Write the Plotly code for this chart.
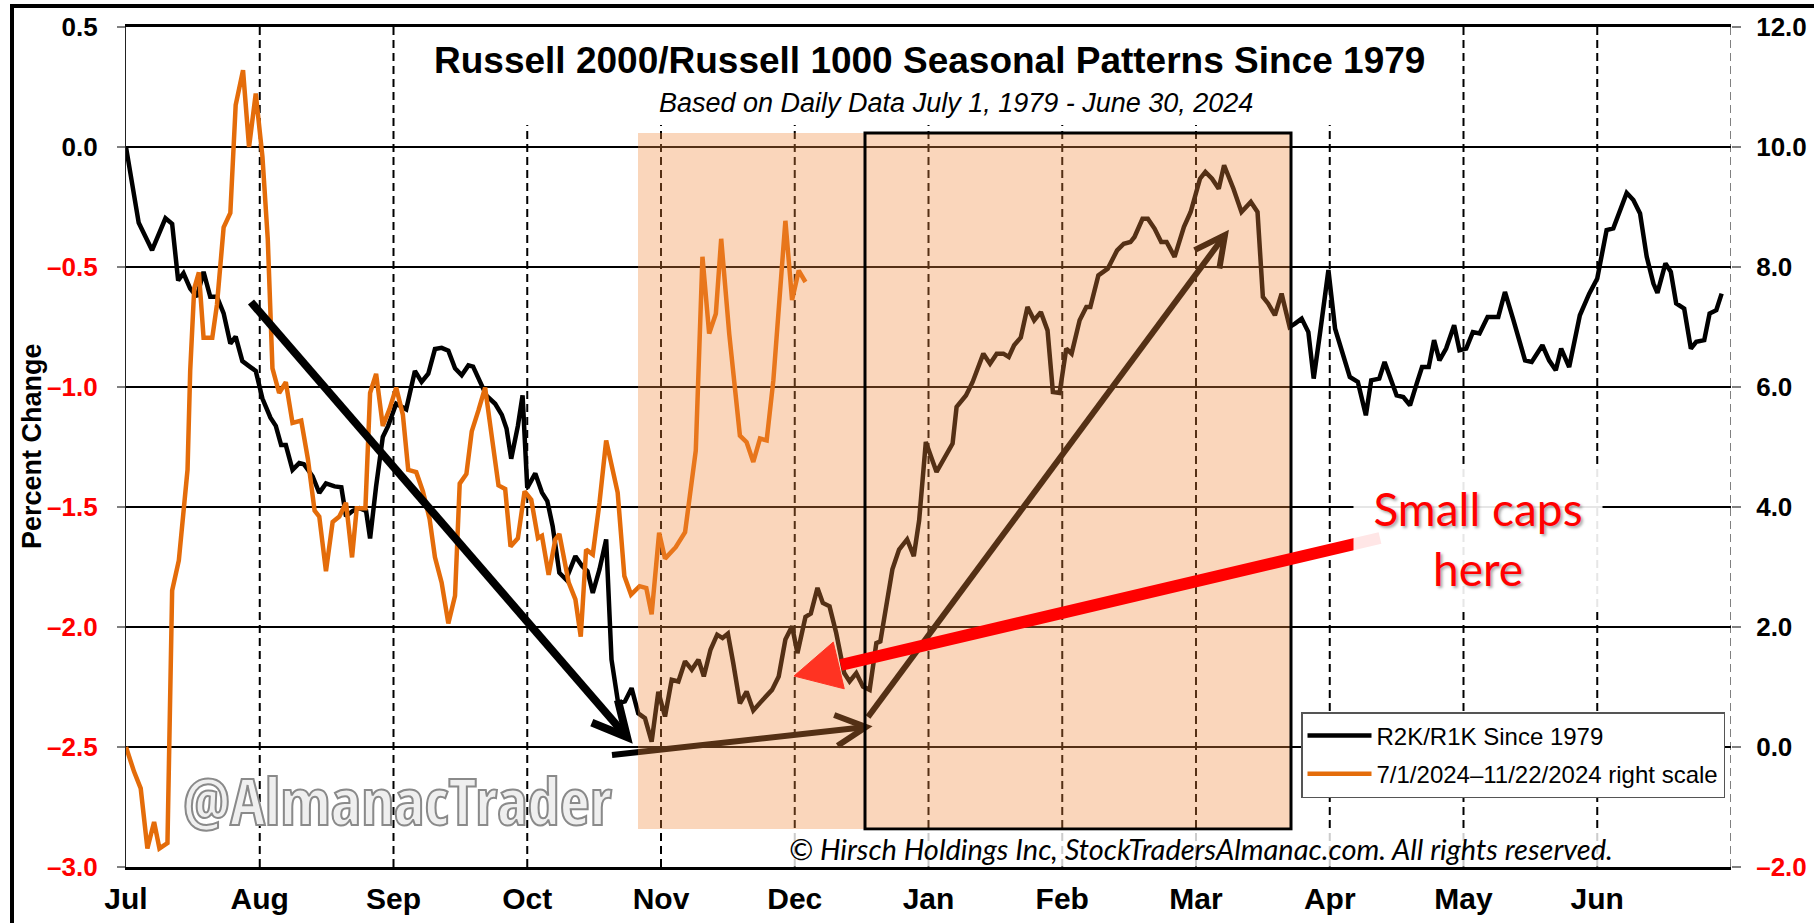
import math
import plotly.graph_objects as go

# ---------------- data ----------------
months = ["Jul", "Aug", "Sep", "Oct", "Nov", "Dec", "Jan", "Feb", "Mar", "Apr", "May", "Jun"]
month_pos = list(range(12))          # month start positions (month units from Jul 1)

# R2K/R1K seasonal pattern since 1979 (percent change, left scale)
r2k_x = [0.00, 0.095, 0.195, 0.26, 0.295, 0.345, 0.39, 0.43, 0.48, 0.53, 0.58, 0.63, 0.68, 0.73,
         0.78, 0.82, 0.87, 0.93, 0.97, 1.02, 1.08, 1.12, 1.16, 1.195, 1.245, 1.295, 1.33, 1.395,
         1.445, 1.495, 1.56, 1.61, 1.645, 1.695, 1.745, 1.795, 1.825, 1.87, 1.92, 1.96, 2.02,
         2.095, 2.16, 2.21, 2.26, 2.31, 2.36, 2.41, 2.46, 2.51, 2.56, 2.595, 2.645, 2.695, 2.76,
         2.81, 2.845, 2.88, 2.93, 2.965, 3.00, 3.06, 3.11, 3.15, 3.19, 3.24, 3.29, 3.36, 3.41,
         3.45, 3.49, 3.54, 3.59, 3.63, 3.68, 3.73, 3.78, 3.83, 3.88, 3.93, 3.98, 4.03, 4.08,
         4.13, 4.18, 4.23, 4.28, 4.32, 4.37, 4.42, 4.46, 4.50, 4.54, 4.59, 4.64, 4.69, 4.76,
         4.83, 4.88, 4.93, 4.98, 5.02, 5.08, 5.12, 5.17, 5.21, 5.26, 5.31, 5.37, 5.41, 5.46,
         5.51, 5.56, 5.61, 5.64, 5.69, 5.73, 5.78, 5.84, 5.89, 5.93, 5.98, 6.06, 6.18, 6.21,
         6.28, 6.33, 6.41, 6.46, 6.51, 6.56, 6.60, 6.64, 6.69, 6.74, 6.79, 6.84, 6.89, 6.93,
         6.98, 7.03, 7.07, 7.13, 7.18, 7.21, 7.27, 7.34, 7.41, 7.46, 7.51, 7.54, 7.60, 7.64,
         7.69, 7.74, 7.78, 7.84, 7.91, 7.96, 8.03, 8.07, 8.12, 8.17, 8.21, 8.28, 8.34, 8.41,
         8.46, 8.50, 8.54, 8.59, 8.64, 8.70, 8.74, 8.79, 8.84, 8.88, 8.93, 8.99, 9.04, 9.09,
         9.15, 9.21, 9.27, 9.31, 9.37, 9.41, 9.46, 9.50, 9.55, 9.60, 9.65, 9.69, 9.74, 9.78,
         9.82, 9.87, 9.93, 9.97, 10.02, 10.07, 10.12, 10.18, 10.26, 10.31, 10.37, 10.41, 10.46,
         10.51, 10.59, 10.64, 10.69, 10.73, 10.79, 10.87, 10.94, 11.00, 11.07, 11.12, 11.17,
         11.22, 11.27, 11.32, 11.37, 11.42, 11.45, 11.51, 11.55, 11.59, 11.65, 11.70, 11.74,
         11.80, 11.84, 11.89, 11.93]
r2k_y = [0.000, -0.316, -0.430, -0.339, -0.297, -0.320, -0.556, -0.526, -0.590, -0.624, -0.520,
         -0.624, -0.624, -0.693, -0.819, -0.790, -0.892, -0.917, -0.933, -1.048, -1.128, -1.162,
         -1.242, -1.242, -1.345, -1.317, -1.322, -1.372, -1.441, -1.402, -1.414, -1.418, -1.539,
         -1.516, -1.505, -1.516, -1.631, -1.414, -1.208, -1.162, -1.070, -1.093, -0.933, -0.979,
         -0.945, -0.842, -0.837, -0.849, -0.922, -0.951, -0.910, -0.915, -0.979, -1.036, -1.070,
         -1.116, -1.173, -1.299, -1.162, -1.035, -1.420, -1.360, -1.440, -1.475, -1.580, -1.774,
         -1.802, -1.705, -1.746, -1.767, -1.858, -1.760, -1.635, -2.136, -2.318, -2.310, -2.255,
         -2.360, -2.380, -2.478, -2.270, -2.373, -2.220, -2.227, -2.143, -2.178, -2.136, -2.206,
         -2.095, -2.032, -2.046, -2.028, -2.150, -2.318, -2.269, -2.348, -2.304, -2.262, -2.206,
         -2.052, -1.997, -2.109, -1.958, -1.944, -1.837, -1.900, -1.914, -2.025, -2.192, -2.227,
         -2.192, -2.248, -2.262, -2.067, -2.060, -1.886, -1.760, -1.677, -1.635, -1.705, -1.556,
         -1.229, -1.354, -1.236, -1.083, -1.035, -0.979, -0.861, -0.903, -0.861, -0.861, -0.875,
         -0.826, -0.794, -0.667, -0.722, -0.688, -0.764, -1.021, -1.025, -0.840, -0.861, -0.722,
         -0.667, -0.667, -0.535, -0.507, -0.431, -0.403, -0.396, -0.375, -0.299, -0.299, -0.340,
         -0.396, -0.396, -0.458, -0.333, -0.271, -0.132, -0.104, -0.132, -0.174, -0.076, -0.174,
         -0.271, -0.229, -0.271, -0.625, -0.653, -0.701, -0.611, -0.750, -0.736, -0.715, -0.771,
         -0.965, -0.764, -0.513, -0.757, -0.847, -0.958, -0.979, -1.118, -0.972, -0.965, -0.896,
         -0.972, -1.035, -1.042, -1.076, -0.986, -0.917, -0.917, -0.805, -0.889, -0.840, -0.743,
         -0.847, -0.840, -0.771, -0.777, -0.708, -0.708, -0.604, -0.715, -0.791, -0.889, -0.896,
         -0.826, -0.889, -0.930, -0.840, -0.917, -0.701, -0.611, -0.548, -0.346, -0.339, -0.263,
         -0.191, -0.221, -0.277, -0.458, -0.569, -0.608, -0.485, -0.520, -0.652, -0.673, -0.840,
         -0.812, -0.805, -0.694, -0.680, -0.611]

# 7/1/2024 - 11/22/2024 (right scale)
y24_x = [0.00, 0.06, 0.11, 0.16, 0.21, 0.25, 0.31, 0.345, 0.395, 0.43, 0.46, 0.48, 0.51, 0.545,
         0.58, 0.645, 0.68, 0.73, 0.78, 0.82, 0.875, 0.92, 0.97, 1.02, 1.06, 1.095, 1.145, 1.195,
         1.245, 1.31, 1.36, 1.41, 1.445, 1.495, 1.545, 1.595, 1.645, 1.69, 1.725, 1.79, 1.825,
         1.87, 1.92, 1.97, 2.02, 2.07, 2.11, 2.17, 2.22, 2.27, 2.31, 2.36, 2.41, 2.46, 2.495,
         2.545, 2.585, 2.635, 2.685, 2.735, 2.785, 2.835, 2.875, 2.93, 2.98, 3.03, 3.08, 3.11,
         3.16, 3.21, 3.24, 3.31, 3.36, 3.40, 3.44, 3.49, 3.54, 3.59, 3.676, 3.726, 3.776, 3.84,
         3.89, 3.93, 3.986, 4.03, 4.11, 4.18, 4.26, 4.31, 4.36, 4.41, 4.45, 4.51, 4.59, 4.64,
         4.69, 4.74, 4.79, 4.84, 4.93, 4.98, 5.03, 5.08]
y24_y = [0.00, -0.41, -0.69, -1.69, -1.25, -1.69, -1.60, 2.61, 3.11, 3.89, 4.62, 6.27, 7.64, 7.91,
         6.82, 6.82, 7.37, 8.66, 8.90, 10.70, 11.28, 10.00, 10.89, 9.84, 8.46, 6.31, 5.90, 6.08,
         5.40, 5.44, 4.80, 3.94, 3.84, 2.93, 3.75, 3.84, 4.07, 3.16, 3.98, 3.98, 5.90, 6.22, 5.35,
         5.63, 5.99, 5.54, 4.62, 4.58, 4.26, 3.80, 3.16, 2.74, 2.06, 2.52, 4.39, 4.55, 5.26, 5.61,
         5.99, 5.17, 4.36, 4.30, 3.34, 3.48, 4.26, 4.12, 3.48, 3.52, 2.87, 3.46, 3.55, 2.74, 2.46,
         1.84, 3.29, 3.21, 4.07, 5.11, 4.24, 2.85, 2.54, 2.68, 2.65, 2.21, 3.57, 3.14, 3.33, 3.58,
         4.94, 8.17, 6.89, 7.22, 8.47, 6.89, 5.19, 5.08, 4.75, 5.14, 5.11, 6.11, 8.77, 7.45, 7.94,
         7.75]

left_ticks = [0.5, 0.0, -0.5, -1.0, -1.5, -2.0, -2.5, -3.0]
right_ticks = [12.0, 10.0, 8.0, 6.0, 4.0, 2.0, 0.0, -2.0]

# ---------------- geometry helpers ----------------
W, H = 1814, 923
ML, MR, MT, MB = 126, 83, 27, 56
PW, PH = W - ML - MR, H - MT - MB
XR = [0, 12]
YR = [-3.0, 0.5]
Y2R = [-2.0, 12.0]


def dx(px):
    return XR[0] + (px - ML) / PW * (XR[1] - XR[0])


def dy(py):
    return YR[1] - (py - MT) / PH * (YR[1] - YR[0])


def ppx(px):
    return (px - ML) / PW


def ppy(py):
    return (H - MB - py) / PH


def fmt(v):
    s = f"{v:.1f}".replace("-", "\u2013")
    return f'<span style="color:#FF0000">{s}</span>' if v < 0 else s


def line_shape(p0, p1, color, width, dash="solid", layer="above"):
    return dict(type="line", xref="x", yref="y", layer=layer,
                x0=dx(p0[0]), y0=dy(p0[1]), x1=dx(p1[0]), y1=dy(p1[1]),
                line=dict(color=color, width=width, dash=dash))


def open_arrow(tail, tip, arm, half, color, width):
    ang = math.atan2(tail[1] - tip[1], tail[0] - tip[0])
    a1 = (tip[0] + arm * math.cos(ang + math.radians(half)), tip[1] + arm * math.sin(ang + math.radians(half)))
    a2 = (tip[0] + arm * math.cos(ang - math.radians(half)), tip[1] + arm * math.sin(ang - math.radians(half)))
    path = (f"M{dx(a1[0])},{dy(a1[1])} L{dx(tip[0])},{dy(tip[1])} L{dx(a2[0])},{dy(a2[1])}")
    return [line_shape(tail, tip, color, width),
            dict(type="path", xref="x", yref="y", layer="above", path=path,
                 fillcolor="rgba(0,0,0,0)", line=dict(color=color, width=width))]


# ---------------- figure ----------------
fig = go.Figure()
fig.add_trace(go.Scatter(x=r2k_x, y=r2k_y, mode="lines", name="R2K/R1K Since 1979",
                         line=dict(color="#000000", width=4.5), legendgroup="a"))
fig.add_trace(go.Scatter(x=y24_x, y=y24_y, mode="lines", name="7/1/2024\u201311/22/2024 right scale",
                         line=dict(color="#E46C0A", width=4.5), yaxis="y2", legendgroup="b"))

shapes = []
# month dashed lines
for m in month_pos[1:]:
    shapes.append(dict(type="line", xref="x", yref="paper", layer="between",
                       x0=m, x1=m, y0=0, y1=1, line=dict(color="#000000", width=2, dash="8px,5px")))
# right edge dashed gray
shapes.append(dict(type="line", xref="x", yref="paper", layer="between",
                   x0=12, x1=12, y0=0, y1=1, line=dict(color="#808080", width=2, dash="8px,5px")))
# white cover behind title block
shapes.append(dict(type="rect", xref="x", yref="y", layer="between",
                   x0=dx(430), x1=dx(1420), y0=dy(125), y1=YR[1],
                   fillcolor="#FFFFFF", line=dict(width=0)))
# black arrows (under the shading)
shapes += open_arrow((251, 302), (627, 737), 38, 27, "#000000", 8)
shapes += open_arrow((612, 755), (866, 727), 34, 27, "#000000", 6)
shapes += open_arrow((868, 717), (1225, 235), 34, 27, "#000000", 6)
# shaded season window + outlined box
shapes.append(dict(type="rect", xref="x", yref="y", layer="above",
                   x0=dx(638), x1=dx(1291), y0=dy(829), y1=dy(133),
                   fillcolor="rgba(242,138,60,0.35)", line=dict(width=0)))
shapes.append(dict(type="rect", xref="x", yref="y", layer="above",
                   x0=dx(865), x1=dx(1291), y0=dy(829), y1=dy(133),
                   fillcolor="rgba(0,0,0,0)", line=dict(color="#000000", width=3)))
# red arrow
tip = (794, 676)
tail = (1380, 538)
ang = math.atan2(tail[1] - tip[1], tail[0] - tip[0])
hl, hw = 46, 24
base = (tip[0] + hl * math.cos(ang), tip[1] + hl * math.sin(ang))
c1 = (base[0] - hw * math.sin(ang), base[1] + hw * math.cos(ang))
c2 = (base[0] + hw * math.sin(ang), base[1] - hw * math.cos(ang))
shapes.append(line_shape(tail, (base[0] + 2 * math.cos(ang), base[1] + 2 * math.sin(ang)), "#FF0000", 12))
shapes.append(dict(type="path", xref="x", yref="y", layer="above",
                   path=f"M{dx(tip[0])},{dy(tip[1])} L{dx(c1[0])},{dy(c1[1])} L{dx(c2[0])},{dy(c2[1])} Z",
                   fillcolor="#FF3322", line=dict(color="#FF3322", width=1)))
# outer frame (top & left)
shapes.append(dict(type="line", xref="paper", yref="paper", x0=ppx(10), x1=ppx(W), y0=ppy(6), y1=ppy(6),
                   line=dict(color="#000000", width=4)))
shapes.append(dict(type="line", xref="paper", yref="paper", x0=ppx(12), x1=ppx(12), y0=ppy(5), y1=ppy(H),
                   line=dict(color="#000000", width=4)))


def ann(text, px, py, font, **kw):
    d = dict(text=text, xref="paper", yref="paper", x=ppx(px), y=ppy(py), showarrow=False,
             xanchor="center", yanchor="middle", font=font)
    d.update(kw)
    return d


annotations = [
    ann("<b>Russell 2000/Russell 1000 Seasonal Patterns Since 1979</b>", 929, 61,
        dict(size=37, color="#000000")),
    ann("<i>Based on Daily Data July 1, 1979 - June 30, 2024</i>", 956, 103,
        dict(size=27, color="#000000")),
    ann("<b>Percent Change</b>", 32, 446, dict(size=27, color="#000000"), textangle=-90),
    ann("<i>\u00a9 Hirsch Holdings Inc, StockTradersAlmanac.com. All rights reserved.</i>", 1201, 848,
        dict(family="Lato, Open Sans, sans-serif", size=29, color="#000000"),
        bgcolor="rgba(255,255,255,0.8)", borderpad=0),
    ann('<span style="fill:#EFEFEF;stroke:#8A8A8A;stroke-width:2px">@AlmanacTrader</span>', 397, 800,
        dict(family="Open Sans Condensed, Roboto Condensed, Roboto, sans-serif", size=65,
             weight="bold", color="#EFEFEF")),
    ann("Small caps<br>here", 1478, 538,
        dict(family="Lato, Open Sans, sans-serif", size=46, color="#FF0000",
             shadow="2px 2px 3px rgba(0,0,0,0.35)"),
        bgcolor="rgba(255,255,255,0.9)", borderpad=12, width=224),
]

fig.update_layout(
    width=W, height=H,
    margin=dict(l=ML, r=MR, t=MT, b=MB, autoexpand=False),
    paper_bgcolor="#FFFFFF", plot_bgcolor="#FFFFFF",
    font=dict(family="Liberation Sans, Arial, sans-serif", color="#000000"),
    showlegend=True,
    legend=dict(x=ppx(1725), xanchor="right", y=ppy(712), yanchor="top",
                bgcolor="#FFFFFF", bordercolor="#555555", borderwidth=1.5, itemwidth=64,
                font=dict(size=24, color="#000000"), tracegroupgap=4, traceorder="grouped"),
    xaxis=dict(range=XR, tickvals=month_pos, ticktext=months, showgrid=False, zeroline=False,
               showline=True, mirror=True, linecolor="#000000", linewidth=2.5, automargin=False,
               ticks="", tickfont=dict(size=30, weight="bold", color="#000000"),
               ticklabelstandoff=3),
    yaxis=dict(range=YR, tickvals=left_ticks, ticktext=[fmt(v) for v in left_ticks],
               showgrid=True, gridcolor="#000000", gridwidth=1.6, zeroline=False,
               showline=True, linecolor="#222222", linewidth=1.2, automargin=False,
               ticks="outside", ticklen=8, tickcolor="#808080", tickwidth=1.5,
               tickfont=dict(size=26, weight="bold", color="#000000"), ticklabelstandoff=14),
    yaxis2=dict(range=Y2R, overlaying="y", side="right", tickvals=right_ticks,
                ticktext=[fmt(v) for v in right_ticks], showgrid=False, zeroline=False,
                showline=False, automargin=False, ticks="outside", ticklen=9, tickcolor="#808080",
                tickwidth=1.5, tickfont=dict(size=26, weight="bold", color="#000000"),
                ticklabelstandoff=10),
    shapes=shapes,
    annotations=annotations,
)

fig.write_html("out.html", config={"displayModeBar": False},
               post_script="document.body.style.margin='0';document.body.style.padding='0';"
                           "document.body.style.overflow='hidden';")
